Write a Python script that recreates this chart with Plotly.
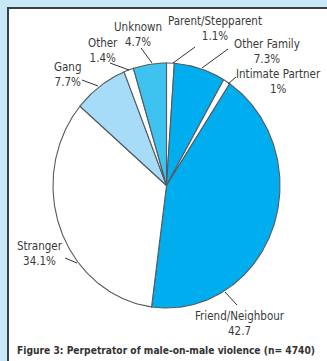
import numpy as np
import plotly.graph_objects as go

# ---- data ----
categories = ["Parent/Stepparent", "Other Family", "Intimate Partner", "Friend/Neighbour",
              "Stranger", "Gang", "Other", "Unknown"]
values = [1.1, 7.3, 1.0, 42.7, 34.1, 7.7, 1.4, 4.7]
value_labels = ["1.1%", "7.3%", "1%", "42.7", "34.1%", "7.7%", "1.4%", "4.7%"]
colors = ["#ffffff", "#00aeef", "#ffffff", "#00aeef", "#ffffff", "#a6dcf7", "#ffffff", "#3ec3f0"]

# ---- layout constants (pixel space) ----
W, H = 327, 361
CX, CY = 166.5, 185.5
RX, RY = 113.5, 122.5
FONT = "DejaVu Sans Condensed, Liberation Sans Narrow, sans-serif"
TXT = "#3a3a3a"

fig = go.Figure()

total = sum(values)
start = 0.0
for cat, v, col in zip(categories, values, colors):
    a0 = start / total * 2 * np.pi
    a1 = (start + v) / total * 2 * np.pi
    t = np.linspace(a0, a1, max(8, int(v * 4)))
    xs = np.concatenate([[CX], CX + RX * np.sin(t), [CX]])
    ys = np.concatenate([[CY], CY - RY * np.cos(t), [CY]])
    fig.add_trace(go.Scatter(x=xs, y=ys, mode="lines", fill="toself", fillcolor=col,
                             line=dict(color="#555a5f", width=1.1), hoverinfo="skip",
                             name=cat, showlegend=False))
    start += v

# label positions (centre of text block) and leader lines
label_pos = {
    "Parent/Stepparent": (215, 28, [(195, 47), (173, 63)]),
    "Other Family": (267, 51, [(228, 49), (202, 68)]),
    "Intimate Partner": (278, 81, [(236, 77), (228, 84)]),
    "Friend/Neighbour": (240, 323, [(237, 305), (225, 292)]),
    "Stranger": (40, 253, [(65, 258), (77, 263)]),
    "Gang": (68, 74, [(82, 80), (98, 86)]),
    "Other": (103, 50, [(110, 63), (129, 70)]),
    "Unknown": (138, 34, [(141, 48), (152, 63)]),
}

annotations = []
shapes = []
for cat, lab in zip(categories, value_labels):
    x, y, line = label_pos[cat]
    annotations.append(dict(x=x, y=y, xref="x", yref="y", text=f"{cat}<br>{lab}",
                            showarrow=False, xanchor="center", yanchor="middle",
                            font=dict(family=FONT, size=11.5, color=TXT)))
    (x0, y0), (x1, y1) = line
    shapes.append(dict(type="line", xref="x", yref="y", x0=x0, y0=y0, x1=x1, y1=y1,
                       line=dict(color="#333333", width=1)))

# caption
annotations.append(dict(x=15, y=350, xref="x", yref="y", xanchor="left", yanchor="middle",
                        text="<b>Figure 3: Perpetrator of male-on-male violence (n= 4740)</b>",
                        showarrow=False, font=dict(family=FONT, size=10.2, color="#333333")))

# frame: light blue outer strips and dark border
shapes += [
    dict(type="rect", xref="x", yref="y", x0=0, x1=7, y0=0, y1=H, fillcolor="#c8e8f8",
         line=dict(width=0), layer="below"),
    dict(type="rect", xref="x", yref="y", x0=0, x1=W, y0=0, y1=7, fillcolor="#c8e8f8",
         line=dict(width=0), layer="below"),
    dict(type="rect", xref="x", yref="y", x0=7, x1=9, y0=7, y1=H, fillcolor="#3a3f44",
         line=dict(width=0), layer="below"),
    dict(type="rect", xref="x", yref="y", x0=7, x1=W, y0=7, y1=9, fillcolor="#3a3f44",
         line=dict(width=0), layer="below"),
]

fig.update_layout(
    width=W, height=H, margin=dict(l=0, r=0, t=0, b=0),
    paper_bgcolor="white", plot_bgcolor="white",
    xaxis=dict(range=[0, W], visible=False, fixedrange=True),
    yaxis=dict(range=[H, 0], visible=False, fixedrange=True),
    annotations=annotations, shapes=shapes, showlegend=False,
)

fig.write_html("out.html")
